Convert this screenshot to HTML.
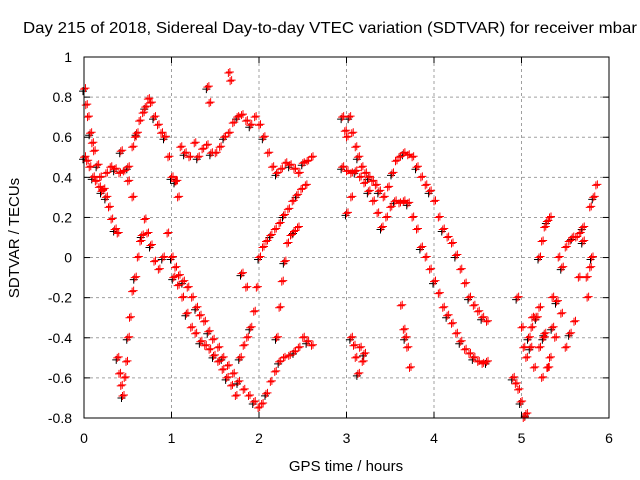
<!DOCTYPE html>
<html><head><meta charset="utf-8"><style>
body{margin:0;background:#fff}
svg{display:block;font-family:"Liberation Sans",Arial,sans-serif}
</style></head><body>
<svg id="c" width="640" height="480">
<text x="23" y="33" textLength="614" lengthAdjust="spacingAndGlyphs" font-size="16">Day 215 of 2018, Sidereal Day-to-day VTEC variation (SDTVAR) for receiver mbar</text>
<text x="346" y="471" text-anchor="middle" font-size="15">GPS time / hours</text>
<text transform="translate(19,238) rotate(-90)" text-anchor="middle" font-size="15">SDTVAR / TECUs</text>
<g id="grid"></g><g id="marks"></g><g id="axes"></g>
</svg>
<script>
const xTicks=[0,1,2,3,4,5,6];
const yTicks=[-0.8,-0.6,-0.4,-0.2,0,0.2,0.4,0.6,0.8,1];
const yTickLabels=["-0.8","-0.6","-0.4","-0.2","0","0.2","0.4","0.6","0.8","1"];
// traces: times (hours) and values (TECU)
const t1=[0,0.03,0.06,0.1,0.13,0.17,0.2,0.25,0.3,0.35,0.4,0.45,0.5,0.55,0.58,0.6,0.63,0.67,0.7,0.73,0.76,0.8,0.84,0.88,0.92,0.96,1.0,1.04,1.07];
const v1=[0.5,0.48,0.45,0.4,0.38,0.35,0.33,0.42,0.45,0.44,0.42,0.43,0.45,0.55,0.6,0.62,0.68,0.72,0.75,0.79,0.77,0.7,0.66,0.62,0.6,0.5,0.4,0.38,0.3];
const t2=[0,0.02,0.04,0.07,0.09,0.11,0.15,0.18,0.22,0.25,0.28,0.31,0.35,0.38];
const v2=[0.84,0.76,0.7,0.62,0.57,0.53,0.46,0.4,0.34,0.3,0.25,0.19,0.14,0.12];
const t3=[0.38,0.4,0.42,0.44,0.46,0.48,0.5,0.52,0.55,0.58,0.61,0.64,0.66,0.69,0.72,0.76,0.8,0.85,0.9,0.95];
const v3=[-0.5,-0.58,-0.64,-0.69,-0.6,-0.52,-0.4,-0.3,-0.17,-0.1,0,0.08,0.11,0.19,0.12,0.06,-0.02,-0.06,0.0,0.12];
const t4=[1.0,1.04,1.08,1.13,1.18,1.23,1.28,1.32,1.37,1.42,1.47,1.53,1.58,1.64,1.7,1.76,1.82,1.88,1.94,1.99,2.03,2.08,2.13,2.18,2.23,2.28,2.34,2.4,2.45,2.5,2.55,2.6];
const v4=[0.0,-0.05,-0.09,-0.12,-0.15,-0.2,-0.25,-0.29,-0.32,-0.37,-0.41,-0.45,-0.5,-0.54,-0.58,-0.62,-0.66,-0.69,-0.72,-0.75,-0.73,-0.68,-0.62,-0.57,-0.52,-0.5,-0.49,-0.47,-0.45,-0.4,-0.42,-0.44];
const t5=[1.02,1.07,1.12,1.17,1.22,1.27,1.33,1.38,1.43,1.48,1.53,1.58,1.63,1.68,1.73,1.78,1.82,1.86,1.9,1.94,1.97,2.0,2.04,2.08,2.13,2.18,2.23,2.28,2.33,2.38,2.43,2.48,2.53];
const v5=[-0.1,-0.14,-0.2,-0.28,-0.35,-0.38,-0.42,-0.44,-0.46,-0.49,-0.52,-0.56,-0.6,-0.64,-0.69,-0.5,-0.44,-0.4,-0.35,-0.27,-0.15,0.0,0.05,0.08,0.11,0.14,0.17,0.21,0.24,0.28,0.31,0.34,0.36];
const t6=[2.2,2.23,2.26,2.29,2.32,2.36,2.4,2.44];
const v6=[-0.4,-0.25,-0.12,-0.02,0.07,0.11,0.13,0.15];
const t7=[1.0,1.05,1.1,1.15,1.2,1.26,1.3,1.35,1.4,1.45,1.5,1.55,1.6,1.65,1.7,1.75,1.8,1.85,1.9,1.95,2.0,2.05,2.1,2.15,2.2,2.25,2.3,2.35,2.4,2.45,2.5,2.55,2.6];
const v7=[0.4,0.38,0.55,0.52,0.5,0.57,0.5,0.54,0.56,0.52,0.52,0.55,0.6,0.62,0.67,0.7,0.71,0.68,0.66,0.7,0.66,0.6,0.52,0.45,0.42,0.44,0.47,0.46,0.44,0.42,0.47,0.48,0.5];
const t8=[2.95,2.98,3.0,3.03,3.06,3.1,3.13,3.17,3.21,3.25,3.29,3.33,3.37,3.42,3.47,3.52,3.56,3.6,3.65,3.7,3.75,3.8,3.85,3.9,3.95,4.0,4.05,4.1,4.15,4.2,4.25,4.3,4.35,4.4,4.45,4.5,4.55,4.6];
const v8=[0.7,0.63,0.6,0.7,0.62,0.55,0.5,0.45,0.42,0.4,0.38,0.36,0.33,0.3,0.35,0.42,0.48,0.5,0.52,0.51,0.5,0.45,0.4,0.36,0.33,0.28,0.2,0.14,0.1,0.07,0.01,-0.06,-0.13,-0.2,-0.24,-0.27,-0.3,-0.32];
const t9=[2.95,3.0,3.05,3.1,3.15,3.2,3.25,3.3,3.35,3.4,3.45,3.5,3.55,3.6,3.65,3.7,3.75,3.8,3.85,3.9,3.95,4.0,4.05,4.1,4.15,4.2,4.25,4.3,4.35,4.4,4.45,4.5,4.55,4.6];
const v9=[0.45,0.43,0.42,0.43,0.4,0.37,0.33,0.28,0.22,0.15,0.2,0.25,0.28,0.27,0.28,0.27,0.2,0.14,0.05,0.0,-0.06,-0.12,-0.18,-0.25,-0.29,-0.33,-0.38,-0.42,-0.46,-0.48,-0.5,-0.52,-0.53,-0.52];
const t10=[3.05,3.08,3.1,3.13,3.15,3.18,3.2,3.62,3.65,3.67,3.69,3.72,3.0,3.05];
const v10=[-0.4,-0.44,-0.5,-0.58,-0.45,-0.52,-0.48,-0.24,-0.36,-0.4,-0.45,-0.55,0.22,0.3];
const t11=[4.9,4.93,4.96,4.99,5.02,5.05,5.08,5.11,5.14,5.17,5.2,5.23,5.26,5.29,5.32,5.35,5.38,5.42,5.46,5.5,5.54,5.58,5.62,5.66,5.7,5.74,5.78,5.82,5.85];
const v11=[-0.6,-0.63,-0.66,-0.72,-0.45,-0.5,-0.4,-0.35,-0.55,-0.3,-0.45,-0.6,-0.38,-0.55,-0.5,-0.35,-0.4,0.0,-0.05,0.05,0.08,0.1,0.1,0.12,0.15,-0.1,0.25,0.3,0.36];
const t12=[4.95,5.0,5.05,5.1,5.15,5.2,5.25,5.3,5.35,5.4,5.45,5.5,5.55,5.6,5.65,5.7,5.75,5.78,5.8];
const v12=[-0.2,-0.35,-0.5,-0.45,-0.3,-0.25,-0.4,-0.55,-0.2,-0.22,-0.28,-0.45,-0.38,-0.32,-0.1,0.08,-0.2,-0.05,0.0];
const t13=[5.2,5.23,5.26,5.29,5.32,1.43,1.41,1.65,1.67,0.42,0.5,0.55,1.8,1.85,5.02,5.05,5.12];
const v13=[0.0,0.08,0.15,0.18,0.2,0.77,0.85,0.92,0.88,0.53,0.38,0.3,-0.08,-0.15,-0.8,-0.78,-0.3];
const series=[[t1,v1],[t2,v2],[t3,v3],[t4,v4],[t5,v5],[t6,v6],[t7,v7],[t8,v8],[t9,v9],[t10,v10],[t11,v11],[t12,v12],[t13,v13]];

const X0=84,X1=609,Y0=418,Y1=57;
const sx=t=>X0+(t-0)/6*(X1-X0);
const sy=v=>Y0-(v+0.8)/1.8*(Y0-Y1);
const NS="http://www.w3.org/2000/svg";
function mk(tag,attrs,parent){const e=document.createElementNS(NS,tag);for(const k in attrs)e.setAttribute(k,attrs[k]);parent.appendChild(e);return e;}
const grid=document.getElementById('grid'),axes=document.getElementById('axes'),marks=document.getElementById('marks');
xTicks.forEach((t,i)=>{
  const x=sx(t);
  if(i>0&&i<xTicks.length-1){const g=mk('line',{x1:x,x2:x,y1:Y1,y2:Y0,stroke:'#a0a0a0','stroke-dasharray':'3,3'},grid);
  
  }
  mk('line',{x1:x,x2:x,y1:Y0,y2:Y0-6,stroke:'#000'},axes);
  mk('line',{x1:x,x2:x,y1:Y1,y2:Y1+6,stroke:'#000'},axes);
  const l=mk('text',{x:x,y:443,'text-anchor':'middle','font-size':14},axes);l.textContent=String(t);
  
  
});
yTicks.forEach((v,i)=>{
  const y=sy(v);
  if(i>0&&i<yTicks.length-1){const g=mk('line',{x1:X0,x2:X1,y1:y,y2:y,stroke:'#a0a0a0','stroke-dasharray':'3,3'},grid);
  
  }
  mk('line',{x1:X0,x2:X0+6,y1:y,y2:y,stroke:'#000'},axes);
  mk('line',{x1:X1,x2:X1-6,y1:y,y2:y,stroke:'#000'},axes);
  const l=mk('text',{x:72,y:y+5,'text-anchor':'end','font-size':14},axes);l.textContent=yTickLabels[i];
  
  
});
const fr=mk('rect',{x:X0,y:Y1,width:X1-X0,height:Y0-Y1,fill:'none',stroke:'#000'},axes);


function plus(x,y){return 'M'+(x-4)+' '+y+'h8M'+x+' '+(y-4)+'v8';}
let dBlack='',dRed='';
series.forEach(([ts,vs])=>{ts.forEach((t,i)=>{
  const x=sx(t),y=sy(vs[i]);
  if(i%3===0)dBlack+=plus(x-1,y+2);
  dRed+=plus(x,y);
  dRed+=plus(x+1.5,y-1);
});});
const pb=mk('path',{d:dBlack,stroke:'#000','stroke-width':1,fill:'none'},marks);


const pr=mk('path',{d:dRed,stroke:'#ff0000','stroke-width':1,fill:'none'},marks);


</script>
</body></html>
